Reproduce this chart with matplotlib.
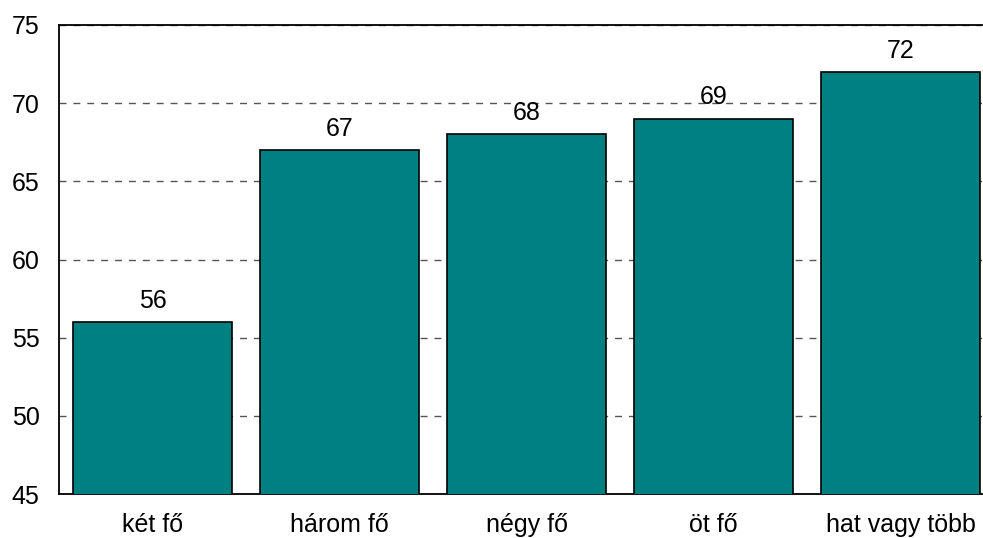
import matplotlib.pyplot as plt

kategoriak = ["két fő", "három fő", "négy fő", "öt fő", "hat vagy több"]
ertekek = [56, 67, 68, 69, 72]
y_ticks = [45, 50, 55, 60, 65, 70, 75]

plt.rcParams['font.family'] = ['Liberation Sans', 'DejaVu Sans']

fig = plt.figure(figsize=(9.83, 5.38), dpi=100)
ax = fig.add_axes([59 / 983, 44 / 538, 923 / 983, 469 / 538])

x = range(len(kategoriak))
bars = ax.bar(x, ertekek, width=0.85, color="#008080", edgecolor="black",
              linewidth=1.2, zorder=3)

for b, v in zip(bars, ertekek):
    ax.text(b.get_x() + b.get_width() / 2, v + 0.6, str(v),
            ha="center", va="bottom", fontsize=18, zorder=4)

ax.set_ylim(45, 75)
ax.set_xlim(-0.5, 4.435)
ax.set_yticks(y_ticks)
ax.set_xticks(list(x))
ax.set_xticklabels(kategoriak)
ax.tick_params(axis="both", length=0, labelsize=18)
ax.tick_params(axis="y", pad=14)
ax.tick_params(axis="x", pad=14)
ax.yaxis.grid(True, linestyle=(0, (5, 5)), color="#555555", linewidth=1, zorder=0)
ax.set_axisbelow(True)
for s in ax.spines.values():
    s.set_linewidth(1.3)
    s.set_color("black")
ax.spines["right"].set_visible(False)

fig.savefig("out.png", dpi=100)
